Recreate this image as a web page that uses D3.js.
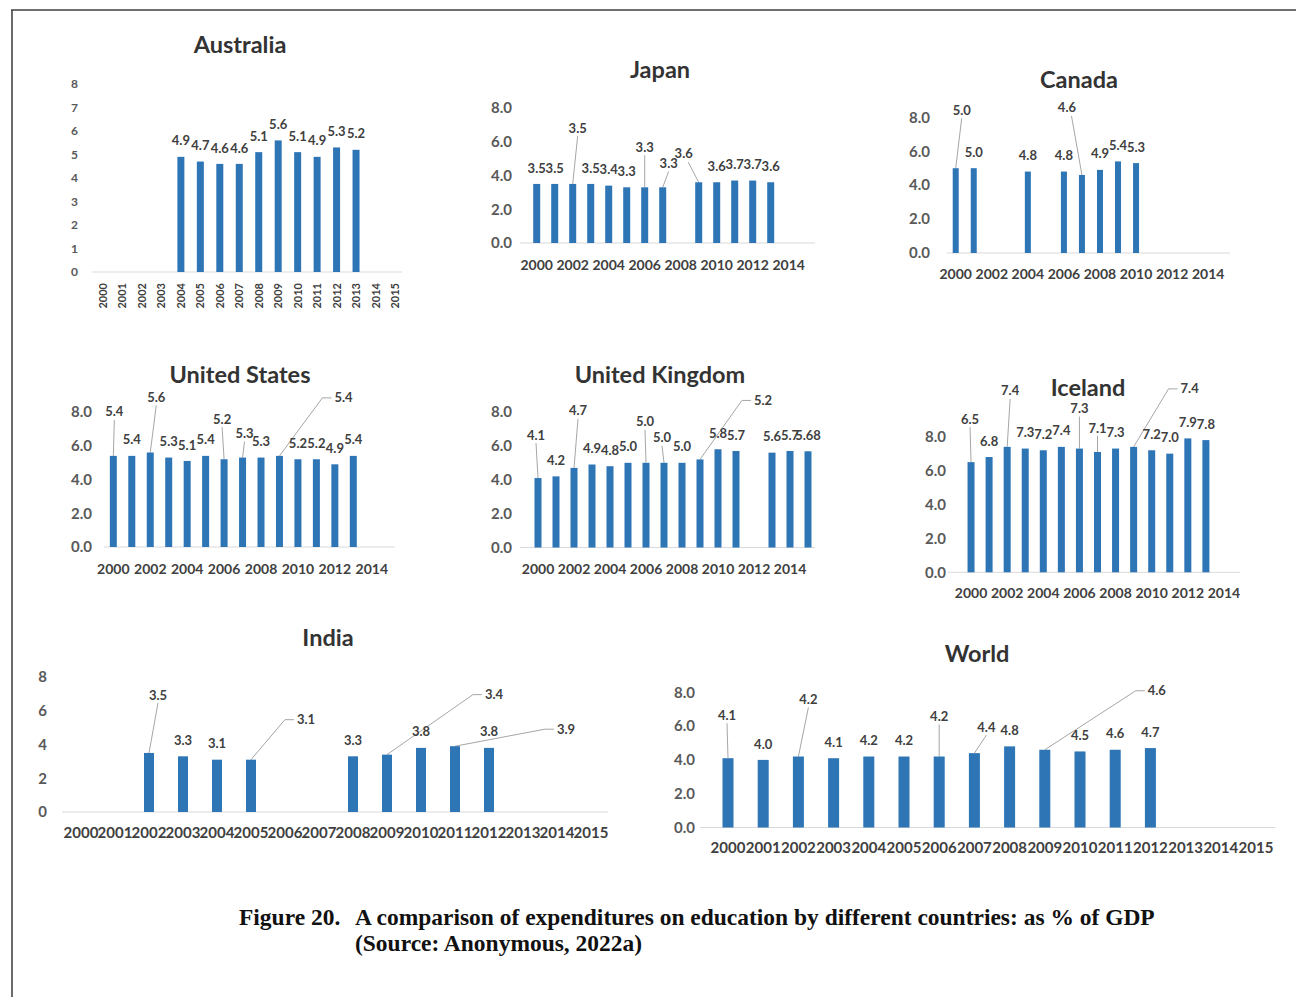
<!DOCTYPE html>
<html>
<head>
<meta charset="utf-8">
<script src="https://cdn.jsdelivr.net/npm/d3@7"></script>
<style>
  body { margin: 0; background: #ffffff; }
  svg { display: block; }
</style>
</head>
<body>
<svg id="fig" width="1296" height="997"></svg>
<script>
// ---- Categories ----
const years16 = ["2000","2001","2002","2003","2004","2005","2006","2007",
                 "2008","2009","2010","2011","2012","2013","2014","2015"];
const years15 = ["2000","2001","2002","2003","2004","2005","2006","2007",
                 "2008","2009","2010","2011","2012","2013","2014"];
const evenYears = ["2000","2002","2004","2006","2008","2010","2012","2014"];

// ---- Public expenditure on education, % of GDP (null = no data) ----
const australia = [null, null, null, null, 4.9, 4.7, 4.6, 4.6, 5.1, 5.6, 5.1, 4.9, 5.3, 5.2, null, null];
const japan     = [3.5, 3.5, 3.5, 3.5, 3.4, 3.3, 3.3, 3.3, null, 3.6, 3.6, 3.7, 3.7, 3.6, null];
const canada    = [5.0, 5.0, null, null, 4.8, null, 4.8, 4.6, 4.9, 5.4, 5.3, null, null, null, null];
const unitedStates = [5.4, 5.4, 5.6, 5.3, 5.1, 5.4, 5.2, 5.3, 5.3, 5.4, 5.2, 5.2, 4.9, 5.4, null];
const unitedKingdom = [4.1, 4.2, 4.7, 4.9, 4.8, 5.0, 5.0, 5.0, 5.0, 5.2, 5.8, 5.7, null, 5.6, 5.7, 5.68];
const iceland   = [6.5, 6.8, 7.4, 7.3, 7.2, 7.4, 7.3, 7.1, 7.3, 7.4, 7.2, 7.0, 7.9, 7.8, null];
const india     = [null, null, 3.5, 3.3, 3.1, 3.1, null, null, 3.3, 3.4, 3.8, 3.9, 3.8, null, null, null];
const world     = [4.1, 4.0, 4.2, 4.1, 4.2, 4.2, 4.2, 4.4, 4.8, 4.6, 4.5, 4.6, 4.7, null, null, null];

// ---- Value-axis ticks ----
const ticksEveryUnit = [0, 1, 2, 3, 4, 5, 6, 7, 8];
const ticksEveryTwo  = [0, 2, 4, 6, 8];

const fmtInt = d3.format("d");
const fmtOne = d3.format(".1f");
const fmtValue = v => Math.abs(v * 10 - Math.round(v * 10)) < 1e-9 ? d3.format(".1f")(v) : d3.format(".2f")(v);

// ---- Panels ----
const panels = [
  { title: "Australia", years: years16, values: australia, labelYears: years16, ticks: ticksEveryUnit, tickFmt: fmtInt },
  { title: "Japan", years: years15, values: japan, labelYears: evenYears, ticks: ticksEveryTwo, tickFmt: fmtOne },
  { title: "Canada", years: years15, values: canada, labelYears: evenYears, ticks: ticksEveryTwo, tickFmt: fmtOne },
  { title: "United States", years: years15, values: unitedStates, labelYears: evenYears, ticks: ticksEveryTwo, tickFmt: fmtOne },
  { title: "United Kingdom", years: years16, values: unitedKingdom, labelYears: evenYears, ticks: ticksEveryTwo, tickFmt: fmtOne },
  { title: "Iceland", years: years15, values: iceland, labelYears: evenYears, ticks: ticksEveryTwo, tickFmt: fmtOne },
  { title: "India", years: years16, values: india, labelYears: years16, ticks: ticksEveryTwo, tickFmt: fmtInt },
  { title: "World", years: years16, values: world, labelYears: years16, ticks: ticksEveryTwo, tickFmt: fmtOne }
];

// Placement of each small chart on the page; callouts move a value label
// away from its bar (dx, dy from the bar top) and connect it with a leader.
const layouts = {
  "Australia": { band: [93.3, 404.7], y0: 272, y8: 84, axisX: [92, 402], tickX: 78,
                 xLabelY: 283, rotate: true, title: [240, 53], barW: 7, xFont: 11, callouts: {} },
  "Japan": { band: [527.7, 797.7], y0: 243, y8: 108, axisX: [520, 815], tickX: 512,
             xLabelY: 270, title: [660, 78], barW: 7, xFont: 14,
             callouts: { "2002": [5, -56], "2006": [0, -40], "2007": [6, -24], "2009": [-15, -29] } },
  "Canada": { band: [946.7, 1217.2], y0: 253, y8: 117.3, axisX: [947, 1230], tickX: 930,
              xLabelY: 279, title: [1079, 88], barW: 6, xFont: 14,
              callouts: { "2000": [6, -58], "2007": [-15, -68] } },
  "United States": { band: [104.1, 381], y0: 547, y8: 412, axisX: [104, 395], tickX: 92,
                     xLabelY: 574, title: [240, 383], barW: 7, xFont: 14,
                     callouts: { "2000": [1, -44], "2002": [6, -55], "2006": [-2, -40], "2007": [2, -24], "2009": [64, -58] } },
  "United Kingdom": { band: [529, 817], y0: 547.5, y8: 412, axisX: [520, 815], tickX: 512,
                      xLabelY: 574, title: [660, 383], barW: 7, xFont: 14,
                      callouts: { "2000": [-2, -43], "2002": [4, -57], "2006": [-1, -41], "2007": [-2, -25], "2009": [63, -59] } },
  "Iceland": { band: [962, 1233], y0: 572.3, y8: 436.7, axisX: [948, 1240], tickX: 946,
               xLabelY: 598, title: [1088, 396], barW: 7, xFont: 14,
               callouts: { "2000": [-1, -43], "2002": [3, -56], "2006": [0, -40], "2007": [0, -24], "2009": [56, -58] } },
  "India": { band: [64, 608], y0: 812, y8: 677, axisX: [62, 608], tickX: 47,
             xLabelY: 838, title: [328, 646], barW: 10, xFont: 15,
             callouts: { "2002": [9, -58], "2005": [55, -40], "2009": [107, -60], "2011": [111, -17] } },
  "World": { band: [710.4, 1273.6], y0: 827.5, y8: 692.3, axisX: [700, 1275], tickX: 695,
             xLabelY: 853, title: [977, 662], barW: 11, xFont: 15,
             callouts: { "2000": [-1, -43], "2002": [10, -57], "2006": [0, -40], "2007": [12, -26], "2009": [112, -59] } }
};

const BAR = "#2e75b6";
const FONT = "Lato, 'Open Sans', sans-serif";

const svg = d3.select("#fig");

// page frame (top and left rules)
svg.append("line").attr("x1", 11).attr("x2", 1296).attr("y1", 10).attr("y2", 10)
  .attr("stroke", "#707070").attr("stroke-width", 2);
svg.append("line").attr("x1", 12).attr("x2", 12).attr("y1", 10).attr("y2", 997)
  .attr("stroke", "#3a3a3a").attr("stroke-width", 1.5);

panels.forEach(p => {
  const L = layouts[p.title];
  const g = svg.append("g").attr("class", "panel");

  const x = d3.scaleBand().domain(p.years).range(L.band).padding(0);
  const y = d3.scaleLinear().domain([0, 8]).range([L.y0, L.y8]);

  // title
  g.append("text")
    .attr("x", L.title[0]).attr("y", L.title[1])
    .attr("text-anchor", "middle")
    .attr("font-family", FONT).attr("font-weight", 700).attr("font-size", 23.5)
    .attr("fill", "#333333")
    .text(p.title);

  // category axis line
  g.append("line")
    .attr("x1", L.axisX[0]).attr("x2", L.axisX[1])
    .attr("y1", y(0)).attr("y2", y(0))
    .attr("stroke", "#d9d9d9").attr("stroke-width", 1);

  // value axis labels
  g.append("g")
    .attr("transform", `translate(${L.tickX},0)`)
    .call(d3.axisLeft(y).tickValues(p.ticks).tickFormat(p.tickFmt).tickSize(0).tickPadding(0))
    .call(s => s.select(".domain").remove())
    .call(s => s.selectAll("text")
      .attr("font-family", FONT).attr("font-weight", 700)
      .attr("font-size", L.rotate ? 12 : 15).attr("fill", "#595959"));

  // category labels
  const xa = g.append("g")
    .attr("transform", `translate(0,${L.xLabelY})`)
    .call(d3.axisBottom(x).tickValues(p.labelYears).tickSize(0).tickPadding(0))
    .call(s => s.select(".domain").remove());
  xa.selectAll("text")
    .attr("font-family", FONT).attr("font-weight", 700)
    .attr("font-size", L.xFont)
    .attr("fill", "#404040");
  if (L.rotate) {
    xa.selectAll("text")
      .attr("transform", "rotate(-90)")
      .attr("text-anchor", "end")
      .attr("x", 0).attr("y", 4).attr("dy", 0);
  } else {
    xa.selectAll("text").attr("y", 0).attr("dy", 0);
  }

  // bars
  const pts = p.years.map((yr, i) => ({ yr, v: p.values[i] })).filter(d => d.v !== null);
  g.selectAll("rect.bar").data(pts).join("rect")
    .attr("class", "bar")
    .attr("x", d => x(d.yr) + x.bandwidth() / 2 - L.barW / 2)
    .attr("y", d => y(d.v))
    .attr("width", L.barW)
    .attr("height", d => y(0) - y(d.v))
    .attr("fill", BAR);

  // value labels, with leader lines for moved labels
  pts.forEach(d => {
    const bx = x(d.yr) + x.bandwidth() / 2;
    const by = y(d.v);
    const c = L.callouts[d.yr];
    const lx = c ? bx + c[0] : bx;
    const ly = c ? by + c[1] : by - 16;
    const t = g.append("text")
      .attr("x", lx).attr("y", ly + 4.6)
      .attr("text-anchor", "middle")
      .attr("font-family", FONT).attr("font-weight", 700).attr("font-size", 13)
      .attr("fill", "#404040")
      .text(fmtValue(d.v));
    if (c) {
      const w = t.node().getComputedTextLength();
      let pts2;
      if (c[0] > 20) {
        pts2 = [[bx, by], [lx - w / 2 - 12, ly], [lx - w / 2 - 3, ly]];
      } else if (c[0] < -10) {
        pts2 = [[bx, by], [lx + w / 4, ly + 9]];
      } else {
        pts2 = [[bx, by], [lx, ly + 8]];
      }
      g.insert("path", "text")
        .attr("d", d3.line()(pts2))
        .attr("fill", "none")
        .attr("stroke", "#a6a6a6").attr("stroke-width", 1);
    }
  });
});

// ---- Figure caption ----
const SERIF = "'Liberation Serif', 'DejaVu Serif', serif";
const cap = svg.append("g").attr("font-family", SERIF).attr("font-weight", 700).attr("fill", "#111111");
const fitText = (sel, target, base) => {
  sel.attr("font-size", base);
  const w = sel.node().getComputedTextLength();
  sel.attr("font-size", base * target / w);
};
const c1 = cap.append("text").attr("x", 239).attr("y", 925).text("Figure 20.");
const c2 = cap.append("text").attr("x", 355).attr("y", 925)
  .text("A comparison of expenditures on education by different countries: as % of GDP");
const c3 = cap.append("text").attr("x", 355).attr("y", 951).text("(Source: Anonymous, 2022a)");
fitText(c2, 800, 22);
const capSize = +c2.attr("font-size");
c1.attr("font-size", capSize);
c3.attr("font-size", capSize);
</script>
</body>
</html>
